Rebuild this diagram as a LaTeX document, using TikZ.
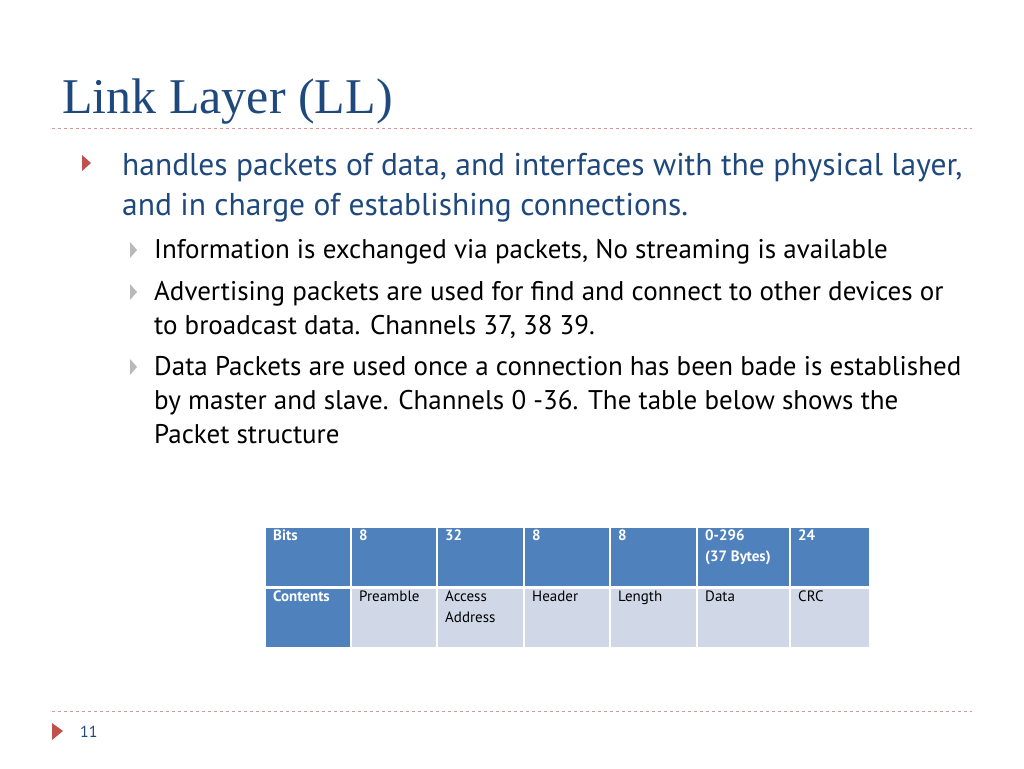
\documentclass[tikz,border=0pt]{standalone}
\usepackage{fontspec}
\setmainfont{PT Sans}
\newfontfamily\titlefont{Liberation Serif}
\definecolor{tblue}{HTML}{1F497D}
\definecolor{bred}{HTML}{C0504D}
\definecolor{hdr}{HTML}{4F81BD}
\definecolor{cel}{HTML}{D0D8E8}
\definecolor{dashcol}{HTML}{D99694}
\begin{document}
\begin{tikzpicture}[x=1pt,y=-1pt,
  l1/.style={anchor=base west,inner sep=0,text=tblue,font=\fontsize{31.5}{32}\selectfont},
  l2/.style={anchor=base west,inner sep=0,text=black,font=\fontsize{27}{28}\selectfont},
  hcell/.style={fill=hdr,draw=white,line width=1.5pt},
  bcell/.style={fill=cel,draw=white,line width=1.5pt},
  htxt/.style={anchor=north west,inner sep=0,text=white,font=\bfseries\fontsize{15}{21}\selectfont,align=left},
  btxt/.style={anchor=north west,inner sep=0,text=black,font=\fontsize{15}{21}\selectfont,align=left},
  dl/.style={draw=dashcol,dashed,line width=0.8pt}]
\useasboundingbox (0,0) rectangle (1024,768);
\fill[white] (0,0) rectangle (1024,768);
\node[anchor=base west,inner sep=0,text=tblue,font=\titlefont\fontsize{50}{52}\selectfont] (title) at (62,113) {Link Layer (LL)};
\coordinate (d1a) at (52,128); \coordinate (d1b) at (972,128);
\draw[dl] (d1a) -- (d1b);
\coordinate (d2a) at (52,711); \coordinate (d2b) at (972,711);
\draw[dl] (d2a) -- (d2b);
% bullets
\fill[bred] (82,155) -- (91,163) -- (82,171) -- cycle;
\node[l1] (t1) at (122,175) {handles packets of data, and interfaces with the physical layer,};
\node[l1] (t2) at (122,215) {and in charge of establishing connections.};
\foreach \y in {250,292,367} \fill[gray!55] (130,\y-8) -- (137,\y) -- (130,\y+8) -- cycle;
\node[l2] (s1) at (154,258) {Information is exchanged via packets, No streaming is available};
\node[l2] (s2) at (154,300) {Advertising packets are used for find and connect to other devices or};
\node[l2] (s3) at (154,334) {to broadcast data. Channels 37, 38 39.};
\node[l2] (s4) at (154,375) {Data Packets are used once a connection has been bade is established};
\node[l2] (s5) at (154,409) {by master and slave. Channels 0 -36. The table below shows the};
\node[l2] (s6) at (154,443) {Packet structure};
% table
\foreach \a/\b in {265/351,351/437,437/524,524/610,610/697,697/790,790/870} {
  \draw[hcell] (\a,527) rectangle (\b,587);
  \draw[bcell] (\a,588) rectangle (\b,648);
}
\draw[hcell] (265,588) rectangle (351,648);
\node[htxt] (h0) at (273,530) {Bits};
\node[htxt] (h1) at (359,530) {8};
\node[htxt] (h2) at (445,530) {32};
\node[htxt] (h3) at (532,530) {8};
\node[htxt] (h4) at (618,530) {8};
\node[htxt] (h5) at (705,530) {0-296\\(37 Bytes)};
\node[htxt] (h6) at (798,530) {24};
\node[htxt] (c0) at (273,591) {Contents};
\node[btxt] (c1) at (359,591) {Preamble};
\node[btxt] (c2) at (445,591) {Access\\Address};
\node[btxt] (c3) at (532,591) {Header};
\node[btxt] (c4) at (618,591) {Length};
\node[btxt] (c5) at (705,591) {Data};
\node[btxt] (c6) at (798,591) {CRC};
% footer
\fill[bred] (52,723) -- (63,731) -- (52,740) -- cycle;
\node[anchor=base west,inner sep=0,text=tblue,font=\fontsize{16}{16}\selectfont] (pg) at (80,737) {11};
\end{tikzpicture}
\end{document}
